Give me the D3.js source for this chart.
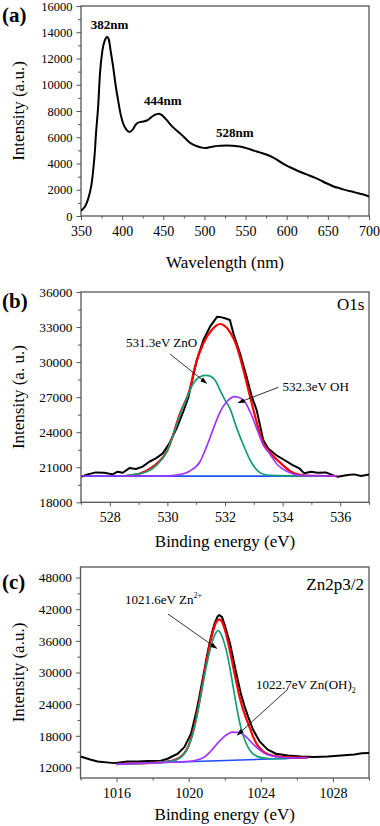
<!DOCTYPE html>
<html><head><meta charset="utf-8">
<script src="https://cdn.jsdelivr.net/npm/d3@7"></script>
<style>body{margin:0;background:#fff}svg{display:block}text{font-family:"Liberation Serif","Times New Roman",serif}</style>
</head><body><svg id="chart" width="380" height="826"></svg>
<script>
// ---------- Panel (a): PL spectrum ----------
const aSpectrum = [[350,400],[354,650],[357,1000],[360,1600],[363,2500],[365,3600],[367,5050],[368,6070],[371,8500],[373,10800],[376,12600],[379,13400],[382,13640],[384,13400],[386,12600],[389,11400],[392,10000],[395,8850],[398,7800],[401,7090],[405,6600],[409,6400],[413,6600],[417,7000],[421,7150],[426,7200],[432,7350],[437,7600],[442,7760],[445,7800],[449,7650],[454,7330],[458,7020],[462,6750],[467,6480],[472,6200],[477,5900],[482,5600],[487,5420],[492,5300],[497,5210],[501,5180],[505,5220],[511,5300],[519,5350],[527,5380],[535,5350],[543,5300],[553,5130],[559,5000],[567,4850],[576,4670],[582,4500],[588,4290],[594,4050],[600,3830],[608,3600],[616,3370],[624,3170],[632,2970],[640,2750],[645,2590],[651,2420],[657,2250],[665,2100],[673,1950],[681,1830],[689,1700],[695,1600],[700,1490]];
const aXTicks = [350,400,450,500,550,600,650,700];
const aXMinor = [375,425,475,525,575,625,675];
const aYTicks = [0,2000,4000,6000,8000,10000,12000,14000,16000];
const aYMinor = [1000,3000,5000,7000,9000,11000,13000,15000];
const aPeaks = [{label:"382nm", x:361.8, y:14210},{label:"444nm", x:426.6, y:8495},{label:"528nm", x:514.1, y:5981}];

// ---------- Panel (b): O1s ----------
const bMeasured = [[527.0,20190],[527.23,20390],[527.52,20560],[527.81,20530],[528.1,20390],[528.27,20620],[528.45,20530],[528.68,20930],[528.91,20850],[529.14,21050],[529.37,21470],[529.6,21760],[529.84,22190],[530.07,23040],[530.32,24330],[530.55,25750],[530.73,27000],[530.84,28180],[531.02,30180],[531.25,31890],[531.48,33030],[531.73,33890],[531.85,33850],[532.0,33750],[532.17,33600],[532.29,32460],[532.52,30750],[532.75,28750],[532.93,27040],[533.1,25890],[533.33,23300],[533.5,22600],[533.77,22050],[534.06,21620],[534.35,21190],[534.58,20910],[534.75,20480],[534.99,20620],[535.22,20530],[535.5,20560],[535.74,20330],[535.91,20190],[536.26,20330],[536.49,20390],[536.72,20250],[537.0,20390]];
const bFit = [[528.5,20250],[529.0,20420],[529.5,21050],[530.0,22450],[530.44,25600],[530.78,27700],[530.96,29610],[531.25,31610],[531.54,32750],[531.83,33260],[532.12,32750],[532.41,31320],[532.64,29320],[532.87,27040],[533.1,24850],[533.33,23050],[533.48,22500],[533.94,21330],[534.29,20620],[534.64,20330],[535.0,20260],[535.9,20250]];
const bZnO = [[528.5,20250],[528.7,20330],[529.28,20620],[529.63,21190],[529.98,22330],[530.2,23760],[530.44,25470],[530.67,26900],[530.84,27900],[531.0,28500],[531.13,28750],[531.35,28870],[531.5,28780],[531.65,28470],[531.88,27330],[532.0,26750],[532.17,26040],[532.41,24330],[532.64,22900],[532.87,21620],[533.1,20770],[533.33,20400],[533.6,20300],[534.18,20260],[535.5,20250]];
const bOH = [[527.0,20250],[529.86,20250],[530.32,20330],[530.78,20680],[531.13,21470],[531.36,22760],[531.6,24330],[531.83,25750],[532.06,26610],[532.35,27040],[532.64,26750],[532.87,25750],[533.1,24330],[533.33,22900],[533.54,22190],[533.83,21190],[534.18,20620],[534.64,20300],[535.9,20250]];
const bBaseline = [[527.0,20240],[535.9,20240]];
const bXTicks = [528,530,532,534,536];
const bXMinor = [527,529,531,533,535,537];
const bYTicks = [18000,21000,24000,27000,30000,33000,36000];
const bYMinor = [19500,22500,25500,28500,31500,34500];

// ---------- Panel (c): Zn2p3/2 ----------
const cMeasured = [[1014.0,14090],[1014.58,13460],[1014.95,13140],[1015.87,12820],[1016.6,13140],[1017.2,13150],[1017.73,13200],[1018.46,13270],[1018.83,13650],[1019.39,14600],[1019.76,15860],[1020.13,18410],[1020.4,22210],[1020.59,25370],[1020.75,28300],[1020.9,31000],[1021.05,33800],[1021.2,36200],[1021.35,38300],[1021.46,39500],[1021.6,40600],[1021.7,40910],[1021.85,40500],[1022.0,39000],[1022.29,35530],[1022.5,32100],[1022.7,28900],[1022.9,25900],[1023.1,23600],[1023.3,21600],[1023.55,19300],[1023.92,17000],[1024.38,15370],[1024.84,14600],[1025.49,14280],[1026.23,14090],[1026.97,13960],[1027.71,14090],[1028.45,14280],[1029.19,14470],[1029.6,14700],[1030.0,14720]];
const cFit = [[1016.0,12650],[1017.0,12760],[1018.0,12870],[1018.8,13100],[1019.2,13400],[1019.5,13900],[1019.76,14700],[1020.0,16200],[1020.2,18300],[1020.4,21100],[1020.6,24600],[1020.8,28500],[1021.0,32300],[1021.2,35800],[1021.4,38400],[1021.55,39700],[1021.7,40090],[1021.85,39600],[1022.0,38200],[1022.2,35500],[1022.4,32200],[1022.6,28900],[1022.8,25700],[1023.0,23200],[1023.2,21200],[1023.4,19400],[1023.6,17600],[1023.8,16300],[1024.1,15100],[1024.4,14500],[1024.75,14200],[1025.3,13950],[1026.0,13880],[1026.6,13840]];
const cZn = [[1016.0,12650],[1018.0,12870],[1019.2,13330],[1019.5,13800],[1019.76,14600],[1020.0,16100],[1020.2,18000],[1020.4,20800],[1020.6,24300],[1020.8,28000],[1021.0,31500],[1021.2,34500],[1021.4,36700],[1021.63,37930],[1021.75,37600],[1021.9,36400],[1022.1,34000],[1022.3,30600],[1022.5,26600],[1022.7,22700],[1022.9,19500],[1023.1,17300],[1023.3,15800],[1023.5,14800],[1023.8,14100],[1024.1,13800],[1024.6,13650],[1025.5,13720]];
const cZnOH = [[1015.97,12570],[1017.0,12760],[1018.0,12870],[1019.0,12990],[1019.8,13100],[1020.4,13350],[1020.87,13960],[1021.15,14800],[1021.42,15860],[1021.7,16950],[1021.98,17900],[1022.2,18400],[1022.44,18710],[1022.72,18660],[1023.09,18090],[1023.3,17400],[1023.55,16510],[1023.8,15700],[1024.1,14910],[1024.4,14400],[1024.75,14090],[1025.49,13840],[1026.6,13840]];
const cBaseline = [[1016.0,12650],[1026.6,13840]];
const cXTicks = [1016,1020,1024,1028];
const cXMinor = [1014,1018,1022,1026,1030];
const cYTicks = [12000,18000,24000,30000,36000,42000,48000];
const cYMinor = [15000,21000,27000,33000,39000,45000];

const svg = d3.select("#chart");
const fmt = d3.format("d");
const FRAME = "#555";
const SERIF = "'Liberation Serif', 'Times New Roman', serif";

svg.append("defs").append("marker")
  .attr("id","arr").attr("viewBox","0 0 10 10").attr("refX",9).attr("refY",5)
  .attr("markerWidth",7).attr("markerHeight",7).attr("orient","auto")
  .attr("markerUnits","userSpaceOnUse")
  .append("path").attr("d","M0,1.5 L10,5 L0,8.5 Z").attr("fill","#000");

function panel(cfg){
  const x = d3.scaleLinear().domain(cfg.xDomain).range([cfg.left, cfg.right]);
  const y = d3.scaleLinear().domain(cfg.yDomain).range([cfg.bottom, cfg.top]);
  const g = svg.append("g");
  const id = "clip" + cfg.name;
  svg.select("defs").append("clipPath").attr("id", id)
    .append("rect").attr("x", cfg.left).attr("y", cfg.top)
    .attr("width", cfg.right - cfg.left).attr("height", cfg.bottom - cfg.top);

  // minor ticks
  g.append("g").attr("transform",`translate(0,${cfg.bottom})`)
    .call(d3.axisBottom(x).tickValues(cfg.xMinor).tickSize(2.5).tickFormat("").tickSizeOuter(0))
    .call(s=>{s.select(".domain").remove(); s.selectAll("line").attr("stroke",FRAME);});
  g.append("g").attr("transform",`translate(${cfg.left},0)`)
    .call(d3.axisLeft(y).tickValues(cfg.yMinor).tickSize(3).tickFormat("").tickSizeOuter(0))
    .call(s=>{s.select(".domain").remove(); s.selectAll("line").attr("stroke",FRAME);});
  // major ticks
  g.append("g").attr("transform",`translate(0,${cfg.bottom})`)
    .call(d3.axisBottom(x).tickValues(cfg.xTicks).tickSize(4).tickPadding(6).tickFormat(fmt).tickSizeOuter(0))
    .call(s=>{s.select(".domain").remove(); s.selectAll("line").attr("stroke",FRAME);
      s.selectAll("text").attr("font-size",14).attr("fill","#000");});
  g.append("g").attr("transform",`translate(${cfg.left},0)`)
    .call(d3.axisLeft(y).tickValues(cfg.yTicks).tickSize(4.5).tickPadding(4).tickFormat(fmt).tickSizeOuter(0))
    .call(s=>{s.select(".domain").remove(); s.selectAll("line").attr("stroke",FRAME);
      s.selectAll("text").attr("font-size",cfg.yFont).attr("fill","#000");});

  // frame
  g.append("rect").attr("x",cfg.left).attr("y",cfg.top)
    .attr("width",cfg.right-cfg.left).attr("height",cfg.bottom-cfg.top)
    .attr("fill","none").attr("stroke",FRAME).attr("stroke-width",1.3);

  // series
  const plot = g.append("g").attr("clip-path",`url(#${id})`);
  cfg.series.forEach(s=>{
    const line = d3.line().x(d=>x(d[0])).y(d=>y(d[1])).curve(s.smooth ? d3.curveMonotoneX : d3.curveLinear);
    plot.append("path").datum(s.data).attr("d",line).attr("fill","none")
      .attr("stroke",s.color).attr("stroke-width",s.width).attr("stroke-linejoin","round");
  });

  // axis titles
  g.append("text").attr("x",(cfg.left+cfg.right)/2).attr("y",cfg.xTitleY)
    .attr("text-anchor","middle").attr("font-size",17).text(cfg.xTitle);
  g.append("text").attr("transform",`translate(24,${(cfg.top+cfg.bottom)/2}) rotate(-90)`)
    .attr("text-anchor","middle").attr("font-size",17).text(cfg.yTitle);
  // panel letter
  g.append("text").attr("x",2).attr("y",cfg.letterY).attr("font-size",21)
    .attr("font-weight","bold").text(cfg.letter);
  return {g,x,y};
}

// ---- (a)
const A = panel({name:"a", left:81, right:369, top:6, bottom:216,
  xDomain:[350,700], yDomain:[0,16000], xTicks:aXTicks, xMinor:aXMinor, yTicks:aYTicks, yMinor:aYMinor, yFont:12.5,
  series:[{data:aSpectrum,color:"#000",width:2,smooth:true}],
  xTitle:"Wavelength (nm)", xTitleY:268, yTitle:"Intensity (a.u.)", letter:"(a)", letterY:22});
A.g.selectAll(".peak").data(aPeaks).join("text").attr("class","peak")
  .attr("x",d=>A.x(d.x)).attr("y",d=>A.y(d.y)).attr("font-size",13).attr("font-weight","bold").text(d=>d.label);

// ---- (b)
const B = panel({name:"b", left:81, right:369, top:292, bottom:502.3,
  xDomain:[527,537], yDomain:[18000,36000], xTicks:bXTicks, xMinor:bXMinor, yTicks:bYTicks, yMinor:bYMinor, yFont:13.3,
  series:[
    {data:bBaseline,color:"#1e50ff",width:1.6},
    {data:bMeasured,color:"#000",width:2},
    {data:bFit,color:"#ff0000",width:2.2,smooth:true},
    {data:bZnO,color:"#139e78",width:1.7,smooth:true},
    {data:bOH,color:"#a035ff",width:1.7,smooth:true}],
  xTitle:"Binding energy (eV)", xTitleY:546.5, yTitle:"Intensity (a. u.)", letter:"(b)", letterY:308});
B.g.append("text").attr("x",B.x(536.84)).attr("y",B.y(34460)).attr("text-anchor","end").attr("font-size",17).text("O1s");
B.g.append("text").attr("x",B.x(528.56)).attr("y",B.y(31290)).attr("font-size",13).text("531.3eV ZnO");
B.g.append("line").attr("x1",B.x(530.09)).attr("y1",B.y(30690)).attr("x2",B.x(531.36)).attr("y2",B.y(28190))
  .attr("stroke","#000").attr("stroke-width",0.8).attr("marker-end","url(#arr)");
B.g.append("text").attr("x",B.x(534.0)).attr("y",B.y(27526)).attr("font-size",13).text("532.3eV OH");
B.g.append("line").attr("x1",B.x(533.85)).attr("y1",B.y(27840)).attr("x2",B.x(532.46)).attr("y2",B.y(26525))
  .attr("stroke","#000").attr("stroke-width",0.8).attr("marker-end","url(#arr)");

// ---- (c)
const C = panel({name:"c", left:80.5, right:369, top:567, bottom:778,
  xDomain:[1014,1030], yDomain:[10000,50000], xTicks:cXTicks, xMinor:cXMinor, yTicks:cYTicks, yMinor:cYMinor, yFont:13.3,
  series:[
    {data:cBaseline,color:"#1e50ff",width:1.6},
    {data:cMeasured,color:"#000",width:2},
    {data:cFit,color:"#ff0000",width:2.2,smooth:true},
    {data:cZn,color:"#139e78",width:1.7,smooth:true},
    {data:cZnOH,color:"#a035ff",width:1.7,smooth:true}],
  xTitle:"Binding energy (eV)", xTitleY:819.5, yTitle:"Intensity (a.u.)", letter:"(c)", letterY:589});
C.g.append("text").attr("x",C.x(1029.72)).attr("y",C.y(45640)).attr("text-anchor","end").attr("font-size",17).text("Zn2p3/2");
const t1 = C.g.append("text").attr("x",C.x(1016.47)).attr("y",C.y(42990)).attr("font-size",13);
t1.append("tspan").text("1021.6eV Zn");
t1.append("tspan").attr("dy",-6).attr("font-size",8).text("2+");
C.g.append("line").attr("x1",C.x(1018.85)).attr("y1",C.y(41090)).attr("x2",C.x(1021.55)).attr("y2",C.y(34590))
  .attr("stroke","#000").attr("stroke-width",0.8).attr("marker-end","url(#arr)");
const t2 = C.g.append("text").attr("x",C.x(1023.73)).attr("y",C.y(26870)).attr("font-size",13);
t2.append("tspan").text("1022.7eV Zn(OH)");
t2.append("tspan").attr("dy",4).attr("font-size",8).text("2");
C.g.append("line").attr("x1",C.x(1025.51)).attr("y1",C.y(26870)).attr("x2",C.x(1022.7)).attr("y2",C.y(18150))
  .attr("stroke","#000").attr("stroke-width",0.8).attr("marker-end","url(#arr)");

svg.selectAll("text").style("font-family", SERIF);
</script></body></html>
